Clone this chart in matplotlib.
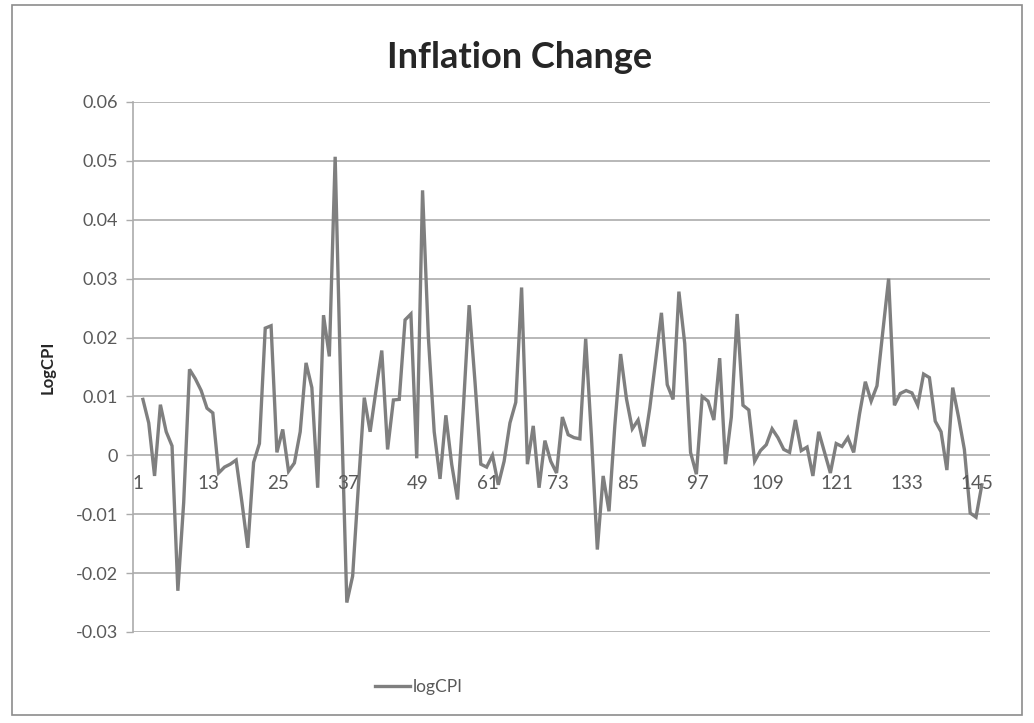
import matplotlib
matplotlib.use("Agg")
import matplotlib.pyplot as plt
from matplotlib.patches import Rectangle
from matplotlib.lines import Line2D

title = "Inflation Change"
y_label = "LogCPI"
series_name = "logCPI"

log_cpi = [
    0.0095, 0.0055, -0.0035, 0.0086, 0.0040, 0.0016, -0.0230, -0.0080, 0.0146, 0.0130,
    0.0110, 0.0080, 0.0072, -0.0030, -0.0020, -0.0015, -0.0008, -0.0080, -0.0157, -0.0012,
    0.0020, 0.0216, 0.0220, 0.0005, 0.0044, -0.0027, -0.0013, 0.0040, 0.0157, 0.0115,
    -0.0055, 0.0238, 0.0168, 0.0507, 0.0100, -0.0250, -0.0205, -0.0050, 0.0098, 0.0040,
    0.0110, 0.0178, 0.0010, 0.0094, 0.0095, 0.0230, 0.0240, -0.0005, 0.0450, 0.0200,
    0.0040, -0.0040, 0.0068, -0.0015, -0.0075, 0.0080, 0.0255, 0.0125, -0.0015, -0.0020,
    0.0000, -0.0050, -0.0010, 0.0055, 0.0090, 0.0285, -0.0015, 0.0050, -0.0055, 0.0025,
    -0.0010, -0.0030, 0.0065, 0.0035, 0.0030, 0.0028, 0.0198, 0.0030, -0.0160, -0.0035,
    -0.0095, 0.0050, 0.0172, 0.0096, 0.0045, 0.0060, 0.0015, 0.0080, 0.0160, 0.0242,
    0.0120, 0.0095, 0.0278, 0.0190, 0.0005, -0.0032, 0.0100, 0.0092, 0.0060, 0.0165,
    -0.0015, 0.0065, 0.0240, 0.0085, 0.0077, -0.0010, 0.0008, 0.0018, 0.0045, 0.0030,
    0.0010, 0.0005, 0.0060, 0.0008, 0.0014, -0.0035, 0.0040, 0.0005, -0.0030, 0.0020,
    0.0015, 0.0030, 0.0005, 0.0070, 0.0125, 0.0092, 0.0118, 0.0210, 0.0300, 0.0085,
    0.0105, 0.0110, 0.0106, 0.0085, 0.0138, 0.0132, 0.0058, 0.0040, -0.0025, 0.0115,
    0.0065, 0.0010, -0.0098, -0.0105, -0.0050,
]
periods = list(range(1, len(log_cpi) + 1))
x_tick_labels = [1, 13, 25, 37, 49, 61, 73, 85, 97, 109, 121, 133, 145]
y_ticks = [-0.03, -0.02, -0.01, 0, 0.01, 0.02, 0.03, 0.04, 0.05, 0.06]
y_tick_labels = ["-0.03", "-0.02", "-0.01", "0", "0.01", "0.02", "0.03", "0.04", "0.05", "0.06"]

font = ["Lato", "DejaVu Sans"]
txt_color = "#595959"
grid_color = "#ababab"
line_color = "#7f7f7f"

W, H = 1034, 723
fig = plt.figure(figsize=(W / 100, H / 100), dpi=100)
fig.patch.set_facecolor("white")

# chart border
fig.patches.append(Rectangle((12 / W, 8 / H), (1022 - 12) / W, (718 - 8) / H,
                             transform=fig.transFigure, fill=False,
                             edgecolor="#8c8c8c", linewidth=1.2))

left, right, top, bottom = 133, 990, 102, 632
ax = fig.add_axes([left / W, 1 - bottom / H, (right - left) / W, (bottom - top) / H])

ax.plot(periods, log_cpi, color=line_color, linewidth=2.4, solid_joinstyle="miter",
        zorder=3)

ax.set_ylim(-0.03, 0.06)
ax.set_xlim(-0.7, 146.4)
ax.set_yticks(y_ticks)
ax.set_yticklabels(y_tick_labels, fontfamily=font, fontsize=13, color=txt_color)
ax.tick_params(axis="y", length=5, width=1, color=grid_color, pad=6)
ax.grid(axis="y", color=grid_color, linewidth=1.2)
ax.set_axisbelow(True)
ax.set_xticks([])
for s in ["top", "right", "bottom"]:
    ax.spines[s].set_visible(False)
ax.spines["left"].set_color(grid_color)
ax.spines["left"].set_linewidth(1.2)

for lab in x_tick_labels:
    ax.text(lab - 0.8, -0.0048, str(lab), ha="center", va="center",
            fontfamily=font, fontsize=13.5, color=txt_color, zorder=4)

ax.set_ylabel(y_label, fontfamily=font, fontsize=12, fontweight="bold",
              color="#262626", labelpad=14)

fig.text(520 / W, 1 - 58 / H, title, ha="center", va="center",
         fontfamily=font, fontsize=26, fontweight="bold", color="#262626")

# legend
fig.add_artist(Line2D([375 / W, 410 / W], [1 - 686 / H, 1 - 686 / H],
                      transform=fig.transFigure, color=line_color, linewidth=2.4))
fig.text(413 / W, 1 - 687 / H, series_name, ha="left", va="center",
         fontfamily=font, fontsize=12.5, color=txt_color)

fig.savefig("out.png", dpi=100)
